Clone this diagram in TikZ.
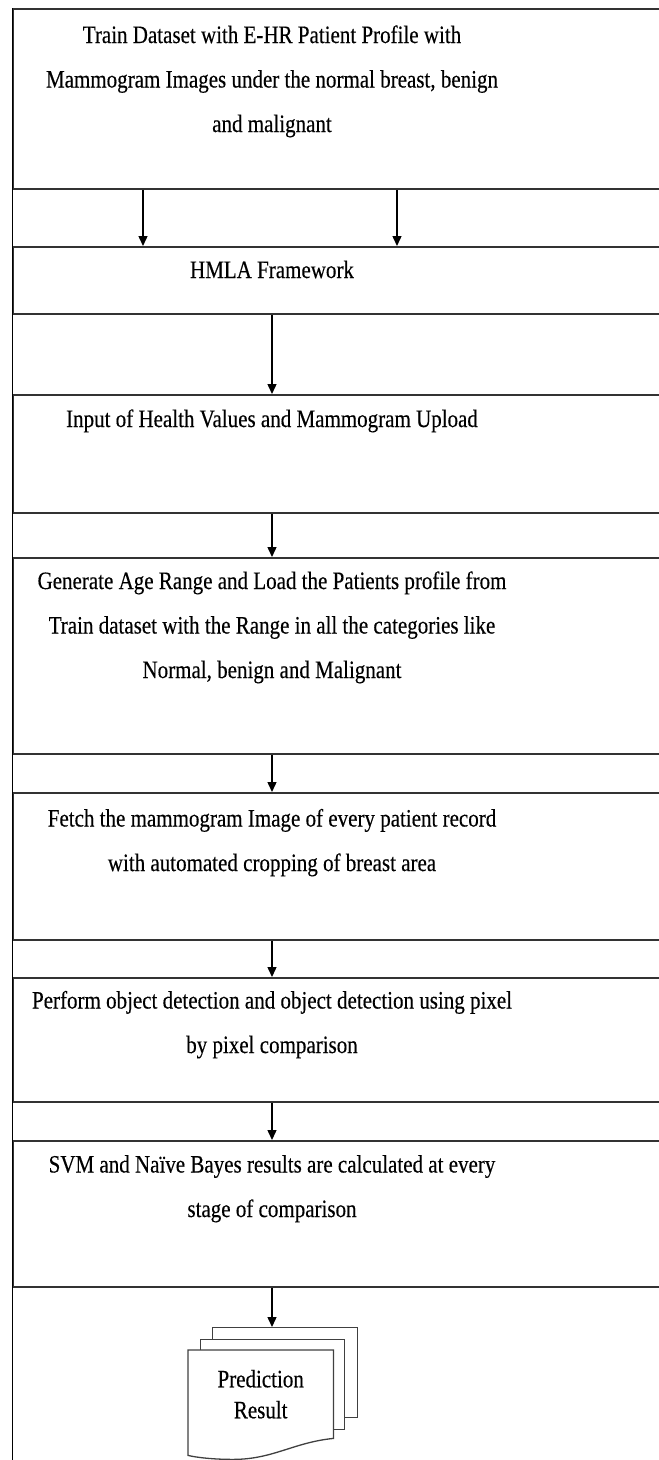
\documentclass[tikz,border=0pt]{standalone}
\usepackage{fontspec}
\setmainfont{Liberation Serif}[FakeStretch=0.84, FakeBold=0.3]
\usetikzlibrary{positioning, calc, arrows.meta, backgrounds}

\begin{document}
\begin{tikzpicture}[x=1pt, y=-1pt,
    frame/.style={draw=black!80, line width=1.8pt, anchor=north west, minimum width=720, inner sep=0},
    boxtext/.style={anchor=base, align=center, font=\fontsize{25}{44.5}\selectfont, text=black},
    flow/.style={-{Triangle[length=10pt, width=9pt]}, line width=1.4pt},
    sheet/.style={draw=black!75, line width=1.3pt, fill=white, anchor=north west, inner sep=0}]
    \useasboundingbox (0,0) rectangle (659,1460);

    % 1. Các khung (chạy ra ngoài mép phải)
    \node[frame, minimum height=180] (train)  at (12,8)    {};
    \node[frame, minimum height=67]  (hmla)   at (12,246)  {};
    \node[frame, minimum height=118] (input)  at (12,394)  {};
    \node[frame, minimum height=196] (age)    at (12,557)  {};
    \node[frame, minimum height=147] (fetch)  at (12,792)  {};
    \node[frame, minimum height=124] (detect) at (12,977)  {};
    \node[frame, minimum height=146] (svm)    at (12,1140) {};

    % đường dọc bên trái
    \draw[line width=1pt] (train.north west) -- (12,1460);

    % 2. Nội dung (base = dòng cuối)
    \node[boxtext] (trainTxt) at (272,132) {Train Dataset with E-HR Patient Profile with\\Mammogram Images under the normal breast, benign\\and malignant};
    \node[boxtext] (hmlaTxt) at (272,278) {HMLA Framework};
    \node[boxtext] (inputTxt) at (272,427) {Input of Health Values and Mammogram Upload};
    \node[boxtext] (ageTxt) at (272,678) {Generate Age Range and Load the Patients profile from\\Train dataset with the Range in all the categories like\\Normal, benign and Malignant};
    \node[boxtext] (fetchTxt) at (272,871) {Fetch the mammogram Image of every patient record\\with automated cropping of breast area};
    \node[boxtext] (detectTxt) at (272,1053) {Perform object detection and object detection using pixel\\by pixel comparison};
    \node[boxtext] (svmTxt) at (272,1217) {SVM and Naïve Bayes results are calculated at every\\stage of comparison};

    % 3. Kết quả (chồng tài liệu)
    \node[align=center, font=\fontsize{25}{31}\selectfont, minimum width=145, minimum height=88, anchor=north west, inner sep=0] (result) at (188,1350) {Prediction\\Result};
    \begin{scope}[on background layer]
        \node[sheet, minimum width=145, minimum height=90] (back) at (212,1327) {};
        \node[sheet, minimum width=144, minimum height=90] (middle) at (200,1339) {};
        \draw[sheet] (result.north west) -- (result.north east) -- (result.south east)
            .. controls +(-40,4) and +(40,0) .. ($(result.south west)+(45,21)$)
            .. controls +(-20,0) and +(8,2) .. ($(result.south west)+(0,17)$) -- cycle;
    \end{scope}

    % 4. Mũi tên
    \coordinate (col) at (272,0);
    \coordinate (colL) at (143,0);
    \coordinate (colR) at (397,0);
    \draw[flow] (train.south -| colL) -- (hmla.north -| colL);
    \draw[flow] (train.south -| colR) -- (hmla.north -| colR);
    \foreach \a/\b in {hmla/input, input/age, age/fetch, fetch/detect, detect/svm, svm/back}
        \draw[flow] (\a.south -| col) -- (\b.north -| col);

\end{tikzpicture}
\end{document}
